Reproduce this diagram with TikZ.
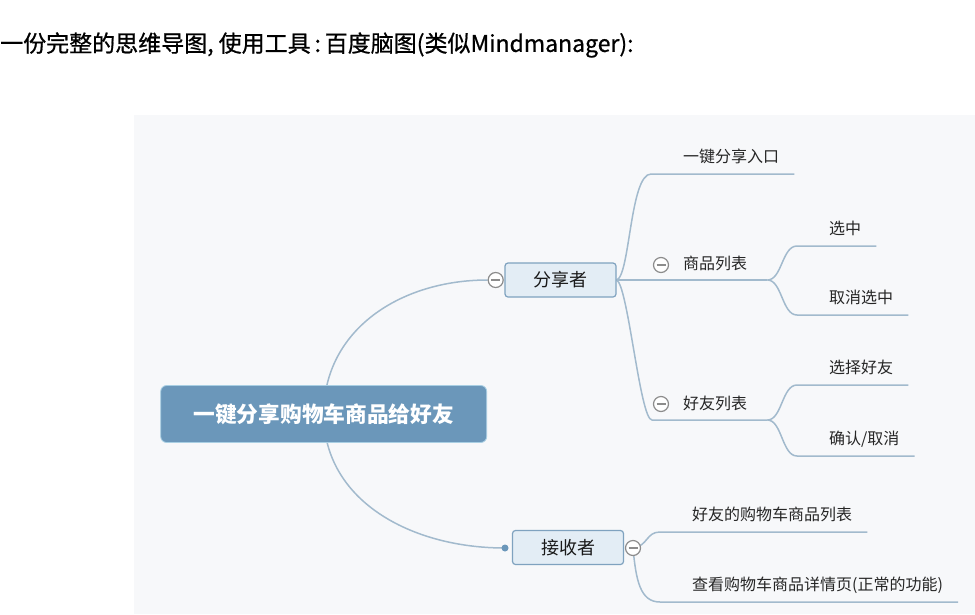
\documentclass[tikz,border=0pt]{standalone}
\usepackage{fontspec}
\setmainfont{Noto Sans CJK SC}
\newfontfamily\titlefont{Noto Sans CJK SC}[FakeBold=0.8]
\usetikzlibrary{backgrounds}
\definecolor{panel}{HTML}{F7F8FA}
\definecolor{rootblue}{HTML}{6B97BA}
\definecolor{rootedge}{HTML}{A9CFE3}
\definecolor{linec}{HTML}{A2BACD}
\definecolor{subfill}{HTML}{E3EDF5}
\definecolor{subdraw}{HTML}{7FA2BF}
\definecolor{iconc}{HTML}{8C8C8C}
\begin{document}
\begin{tikzpicture}[x=1pt,y=-1pt,
  conn/.style={draw=linec,line width=1.5pt},
  rootbox/.style={fill=rootblue,draw=rootedge,line width=0.8pt,rounded corners=6pt,minimum width=326pt,minimum height=57pt,text=white,font=\fontsize{21.7}{22}\selectfont\bfseries},
  subbox/.style={fill=subfill,draw=subdraw,line width=1.2pt,rounded corners=3pt,minimum width=111pt,minimum height=34pt,font=\fontsize{18}{18}\selectfont,text=black!90},
  leaf/.style={anchor=south west,inner xsep=15pt,inner ysep=11pt,text depth=0pt,font=\fontsize{16}{16}\selectfont,text=black!85},
  midleaf/.style={anchor=south west,inner xsep=20pt,inner ysep=10pt,text depth=0pt,font=\fontsize{16}{16}\selectfont,text=black!85},
  icon/.style={circle,draw=iconc,fill=white,line width=1.2pt,minimum size=15pt,inner sep=0pt,
    path picture={\draw[iconc,line width=1.2pt] ([xshift=-4.5pt]path picture bounding box.center) -- ([xshift=4.5pt]path picture bounding box.center);}},
  dotc/.style={circle,fill=rootblue,minimum size=7pt,inner sep=0pt},
  titletext/.style={anchor=west,inner sep=0pt,font=\titlefont\fontsize{23}{24}\selectfont}
]
\useasboundingbox (0,0) rectangle (975,614);

\node[titletext] (title) at (0,45) {一份完整的思维导图, 使用工具\,:\,百度脑图(类似Mindmanager):};

\node[rootbox] (root) at (323.7,414) {一键分享购物车商品给好友};
\node[subbox] (share) at (560.5,280) {分享者};
\node[icon] (shareicon) at (495.7,280) {};
\node[subbox] (recv) at (568,547.5) {接收者};
\node[icon] (recvicon) at (633,548) {};
\node[dotc] (recvdot) at (505,548) {};

\node[leaf] (l1) at (651,174) {\hspace*{17pt}一键分享入口};
\node[midleaf] (m1) at (652,280) {\hspace*{11pt}商品列表};
\node[icon] at (661,265) {};
\node[leaf] (l2) at (797,246) {\hspace*{17pt}选中};
\node[leaf] (l3) at (797,315) {\hspace*{17pt}取消选中};
\node[midleaf] (m2) at (652,420) {\hspace*{11pt}好友列表};
\node[icon] at (661,404) {};
\node[leaf] (l4) at (797,385) {\hspace*{17pt}选择好友};
\node[leaf] (l5) at (797,456) {\hspace*{17pt}确认/取消};
\node[leaf] (r1) at (660,532) {\hspace*{17pt}好友的购物车商品列表};
\node[leaf] (r2) at (660,602) {\hspace*{17pt}查看购物车商品详情页(正常的功能)};

\begin{pgfonlayer}{background}
  \fill[white] (0,0) rectangle (975,614);
  \fill[panel] (134,115) rectangle (975,614);
  \draw[conn] (root.center) .. controls (323.7,330) and (400,280) .. (shareicon.west);
  \draw[conn] (root.center) .. controls (323.7,500) and (410,548) .. (recvdot.center);
  \draw[conn] (share.east) .. controls (630,276) and (630,174) .. (l1.south west) -- (l1.south east);
  \draw[conn] (share.east) -- (m1.south west) -- (m1.south east);
  \draw[conn] (share.east) .. controls (628,285) and (640,420) .. (m2.south west) -- (m2.south east);
  \draw[conn] (m1.south east) .. controls (782,280) and (782,246) .. (l2.south west) -- (l2.south east);
  \draw[conn] (m1.south east) .. controls (782,280) and (782,315) .. (l3.south west) -- (l3.south east);
  \draw[conn] (m2.south east) .. controls (782,420) and (782,385) .. (l4.south west) -- (l4.south east);
  \draw[conn] (m2.south east) .. controls (782,420) and (782,456) .. (l5.south west) -- (l5.south east);
  \draw[conn] (recvicon.center) .. controls (648,546) and (646,532) .. (r1.south west) -- (r1.south east);
  \draw[conn] (recvicon.center) .. controls (636,580) and (640,602) .. (r2.south west) -- (r2.south east);
\end{pgfonlayer}
\end{tikzpicture}
\end{document}
